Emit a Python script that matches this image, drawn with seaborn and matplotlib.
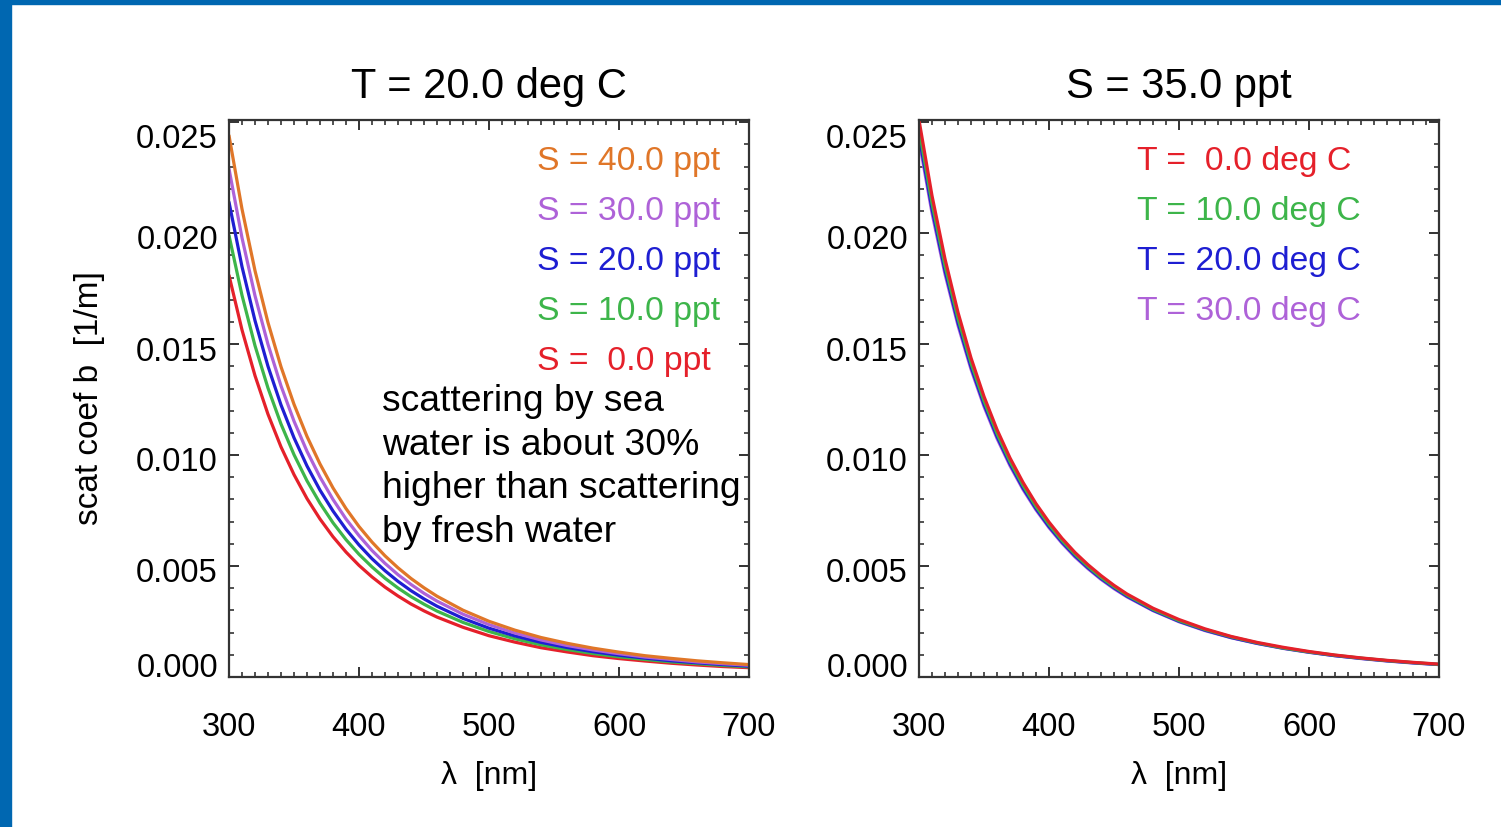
import numpy as np
import pandas as pd
import matplotlib
matplotlib.use("Agg")
import matplotlib.pyplot as plt
import matplotlib.transforms as mtrans
import seaborn as sns
from matplotlib.ticker import MultipleLocator, FormatStrFormatter
from matplotlib.patches import Rectangle

# ---------------- data ----------------
wavelength = [300, 310, 320, 330, 340, 350, 360, 370, 380, 390, 400, 410, 420, 430, 440, 450, 460,
              480, 500, 520, 540, 560, 580, 600, 620, 640, 660, 680, 700]

# left panel: T = 20 deg C, varying salinity
salinity_labels = ["S = 40.0 ppt", "S = 30.0 ppt", "S = 20.0 ppt",
                   "S = 10.0 ppt", "S =  0.0 ppt"]
b_S40 = [0.0244, 0.02109, 0.01831, 0.01597, 0.01398, 0.01229, 0.01084, 0.00960, 0.00852, 0.00759, 0.00678,
         0.00608, 0.00546, 0.00492, 0.00444, 0.00402, 0.00364,
         0.00301, 0.00251, 0.00211, 0.00178, 0.00152, 0.00130, 0.00112, 0.00096, 0.00084, 0.00073, 0.00064, 0.00056]
b_S30 = [0.0229, 0.01979, 0.01718, 0.01499, 0.01312, 0.01153, 0.01017, 0.00901, 0.00800, 0.00712, 0.00637,
         0.00570, 0.00512, 0.00461, 0.00417, 0.00377, 0.00342,
         0.00283, 0.00236, 0.00198, 0.00167, 0.00142, 0.00122, 0.00105, 0.00090, 0.00079, 0.00068, 0.00060, 0.00053]
b_S20 = [0.0214, 0.01849, 0.01606, 0.01400, 0.01226, 0.01078, 0.00951, 0.00842, 0.00748, 0.00666, 0.00595,
         0.00533, 0.00479, 0.00431, 0.00389, 0.00352, 0.00319,
         0.00264, 0.00220, 0.00185, 0.00156, 0.00133, 0.00114, 0.00098, 0.00085, 0.00073, 0.00064, 0.00056, 0.00049]
b_S10 = [0.0199, 0.01720, 0.01493, 0.01302, 0.01140, 0.01002, 0.00884, 0.00783, 0.00695, 0.00619, 0.00553,
         0.00496, 0.00445, 0.00401, 0.00362, 0.00328, 0.00297,
         0.00246, 0.00205, 0.00172, 0.00145, 0.00124, 0.00106, 0.00091, 0.00079, 0.00068, 0.00060, 0.00052, 0.00046]
b_S0 = [0.0181, 0.01564, 0.01358, 0.01184, 0.01037, 0.00912, 0.00804, 0.00712, 0.00632, 0.00563, 0.00503,
        0.00451, 0.00405, 0.00365, 0.00329, 0.00298, 0.00270,
        0.00224, 0.00186, 0.00157, 0.00132, 0.00113, 0.00096, 0.00083, 0.00072, 0.00062, 0.00054, 0.00047, 0.00042]

# right panel: S = 35 ppt, varying temperature
temp_labels = ["T =  0.0 deg C", "T = 10.0 deg C", "T = 20.0 deg C", "T = 30.0 deg C"]
b_T0 = [0.0251, 0.02169, 0.01884, 0.01643, 0.01438, 0.01264, 0.01115, 0.00987, 0.00877, 0.00781, 0.00698,
        0.00625, 0.00561, 0.00506, 0.00457, 0.00413, 0.00374,
        0.00310, 0.00259, 0.00217, 0.00183, 0.00156, 0.00134, 0.00115, 0.00099, 0.00086, 0.00075, 0.00066, 0.00058]
b_T10 = [0.0247, 0.02135, 0.01853, 0.01616, 0.01415, 0.01244, 0.01097, 0.00971, 0.00863, 0.00768, 0.00687,
         0.00615, 0.00553, 0.00498, 0.00449, 0.00407, 0.00369,
         0.00305, 0.00254, 0.00214, 0.00181, 0.00154, 0.00131, 0.00113, 0.00098, 0.00085, 0.00074, 0.00065, 0.00057]
b_T20 = [0.0244, 0.02109, 0.01831, 0.01597, 0.01398, 0.01229, 0.01084, 0.00960, 0.00852, 0.00759, 0.00678,
         0.00608, 0.00546, 0.00492, 0.00444, 0.00402, 0.00364,
         0.00301, 0.00251, 0.00211, 0.00178, 0.00152, 0.00130, 0.00112, 0.00096, 0.00084, 0.00073, 0.00064, 0.00056]
b_T30 = [0.0242, 0.02091, 0.01816, 0.01584, 0.01387, 0.01219, 0.01075, 0.00952, 0.00845, 0.00753, 0.00673,
         0.00603, 0.00541, 0.00488, 0.00440, 0.00398, 0.00361,
         0.00299, 0.00249, 0.00209, 0.00177, 0.00151, 0.00129, 0.00111, 0.00096, 0.00083, 0.00072, 0.00063, 0.00056]

titles = ["T = 20.0 deg C", "S = 35.0 ppt"]
xlabel = "λ  [nm]"
ylabel = "scat coef b  [1/m]"
note = "scattering by sea\nwater is about 30%\nhigher than scattering\nby fresh water"
xticks = [300, 400, 500, 600, 700]
yticks = [0.000, 0.005, 0.010, 0.015, 0.020, 0.025]

# ---------------- styles ----------------
c_red, c_green, c_blue, c_purple, c_orange = "#E5202A", "#3DB54A", "#1E1ED2", "#AE62D8", "#E07628"
sal_colors = [c_orange, c_purple, c_blue, c_green, c_red]
temp_colors = [c_red, c_green, c_blue, c_purple]

sns.set_style("ticks")
plt.rcParams["font.family"] = ["Liberation Sans", "DejaVu Sans"]
plt.rcParams["text.color"] = "black"
plt.rcParams["axes.labelcolor"] = "black"

left_series = [b_S40, b_S30, b_S20, b_S10, b_S0]
right_series = [b_T0, b_T10, b_T20, b_T30]

df_left = pd.DataFrame({
    "wl": np.tile(wavelength, len(left_series)),
    "b": np.concatenate(left_series),
    "lab": np.repeat(salinity_labels, len(wavelength)),
})
df_right = pd.DataFrame({
    "wl": np.tile(wavelength, len(right_series)),
    "b": np.concatenate(right_series),
    "lab": np.repeat(temp_labels, len(wavelength)),
})

fig = plt.figure(figsize=(15.01, 8.27), dpi=100)
W, H = 1501, 827
ax1 = fig.add_axes([229 / W, 1 - 677 / H, 520 / W, 557 / H])
ax2 = fig.add_axes([919 / W, 1 - 677 / H, 520 / W, 557 / H])

# blue frame strips
fig.patches.append(Rectangle((0, 0), 11 / W, 1, transform=fig.transFigure,
                             color="#0067B1", zorder=0))
fig.patches.append(Rectangle((0, 1 - 4 / H), 1, 4 / H, transform=fig.transFigure,
                             color="#0067B1", zorder=0))

sns.lineplot(data=df_left, x="wl", y="b", hue="lab",
             hue_order=salinity_labels[::-1], palette=sal_colors[::-1],
             ax=ax1, legend=False, linewidth=2.3)
sns.lineplot(data=df_right, x="wl", y="b", hue="lab",
             hue_order=temp_labels[::-1], palette=temp_colors[::-1],
             ax=ax2, legend=False, linewidth=2.3)

# IDL-style vertical nudges of the y tick labels (pixels, positive = down)
ylabel_nudge = [-12, 3.5, 4, 4.5, 4, 14]

for ax, title in zip([ax1, ax2], titles):
    ax.set_xlim(300, 700)
    ax.set_ylim(0, 0.0251)
    ax.set_xticks(xticks)
    ax.set_yticks(yticks)
    ax.yaxis.set_major_formatter(FormatStrFormatter("%.3f"))
    ax.xaxis.set_minor_locator(MultipleLocator(10))
    ax.yaxis.set_minor_locator(MultipleLocator(0.001))
    ax.tick_params(which="both", direction="in", top=True, right=True,
                   colors="#222222", labelcolor="black")
    ax.tick_params(which="major", length=7, width=1.3, labelsize=23.5)
    ax.tick_params(which="minor", length=3.5, width=1.1)
    ax.tick_params(axis="x", which="major", pad=25)
    ax.tick_params(axis="y", which="major", pad=8)
    for sp in ax.spines.values():
        sp.set_linewidth(1.6)
        sp.set_color("#333333")
    ax.set_title(title, fontsize=30, pad=16, color="black")
    ax.set_xlabel(xlabel, fontsize=23, labelpad=13)
    ax.set_ylabel("")
    for tick, dy in zip(ax.yaxis.get_major_ticks(), ylabel_nudge):
        off = mtrans.ScaledTranslation(0, -dy / 100.0, fig.dpi_scale_trans)
        tick.label1.set_transform(tick.label1.get_transform() + off)

ax1.set_ylabel(ylabel, fontsize=24, labelpad=22)

# in-plot labels
for i, (lab, col) in enumerate(zip(salinity_labels, sal_colors)):
    ax1.text((537 - 229) / 520, (677 - (170 + 50 * i)) / 557, lab, color=col,
             fontsize=24.3, transform=ax1.transAxes, ha="left", va="baseline")
for i, (lab, col) in enumerate(zip(temp_labels, temp_colors)):
    ax2.text((1137 - 919) / 520, (677 - (170 + 50 * i)) / 557, lab, color=col,
             fontsize=24.3, transform=ax2.transAxes, ha="left", va="baseline")

ax1.text((382 - 229) / 520, (677 - 384) / 557, note, fontsize=26.8,
         transform=ax1.transAxes, ha="left", va="top", linespacing=1.32,
         color="black")

fig.savefig("out.png", dpi=100)
